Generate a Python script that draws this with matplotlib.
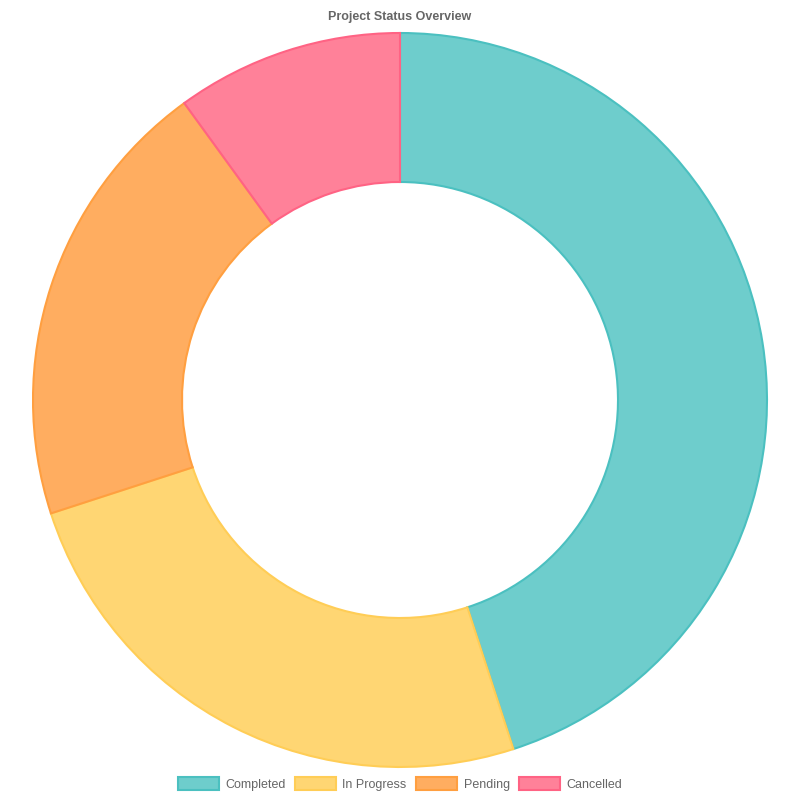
import matplotlib
matplotlib.use("Agg")
import matplotlib.pyplot as plt
from matplotlib.patches import Patch

labels = ["Completed", "In Progress", "Pending", "Cancelled"]
values = [45, 25, 20, 10]
fill_colors = ["#6ECDCC", "#FFD673", "#FFAD60", "#FF8199"]
edge_colors = ["#4BC0C0", "#FFCD56", "#FF9F40", "#FF6384"]

plt.rcParams['font.family'] = ['Liberation Sans', 'DejaVu Sans']

fig = plt.figure(figsize=(8, 8), dpi=100)
ax = fig.add_axes([0, 0, 1, 1])

wedges, _ = ax.pie(values, colors=fill_colors, startangle=90, counterclock=False,
                   center=(400, 400), radius=367, frame=True,
                   wedgeprops=dict(width=149, linewidth=1.5))
for w, ec in zip(wedges, edge_colors):
    w.set_edgecolor(ec)
ax.set_xlim(0, 800)
ax.set_ylim(0, 800)
ax.set_aspect('equal')
ax.axis('off')

fig.text(0.5, 1 - 17 / 800, "Project Status Overview", ha='center', va='center',
         fontsize=9, fontweight='bold', color='#666666')

handles = [Patch(facecolor=fc, edgecolor=ec, linewidth=1.5) for fc, ec in zip(fill_colors, edge_colors)]
leg = fig.legend(handles, labels, loc='center', bbox_to_anchor=(0.5, 1 - 784 / 800), ncol=4,
                 frameon=False, fontsize=9, handlelength=3.3, handleheight=1.2,
                 handletextpad=0.5, columnspacing=0.75, labelcolor='#666666')

fig.savefig("out.png", dpi=100)
